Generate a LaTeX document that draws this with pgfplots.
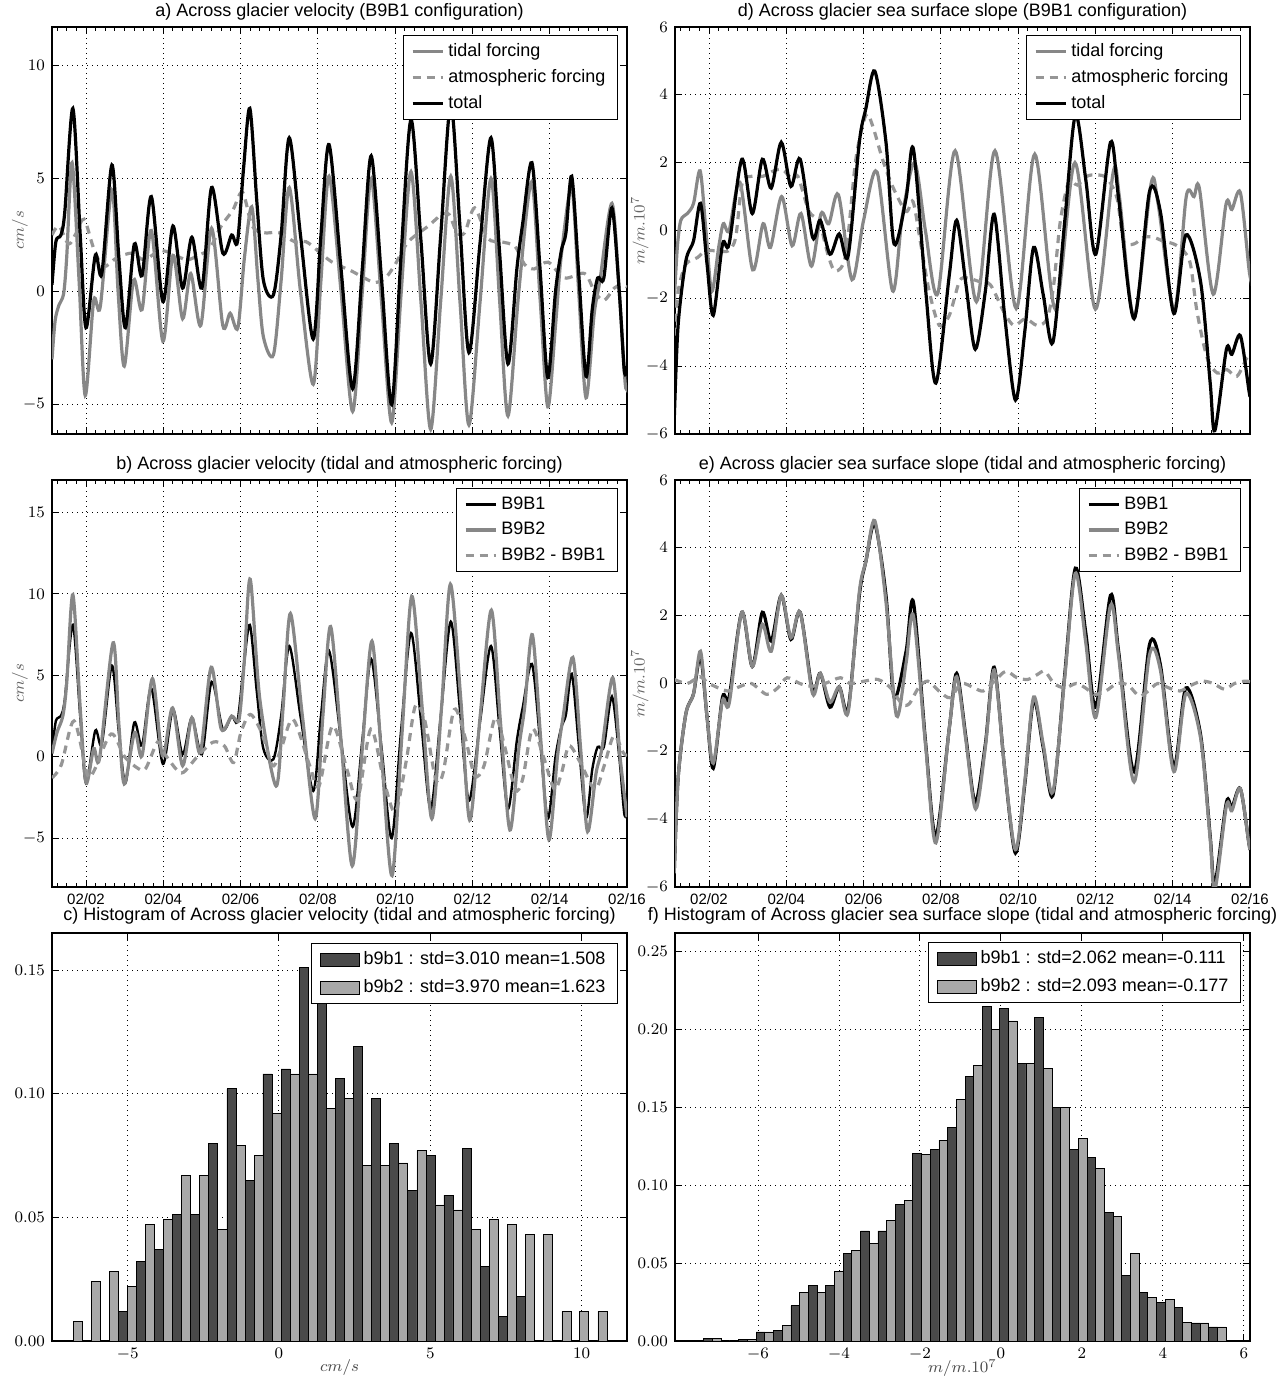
\documentclass[border=0pt]{standalone}
\usepackage{fontspec}
\setmainfont{Liberation Sans}
\usepackage{pgfplots}
\usepackage{pgfplotstable}
\pgfplotsset{compat=1.18}

\definecolor{tidalc}{RGB}{135,135,135}
\definecolor{atmoc}{RGB}{150,150,150}
\definecolor{hdark}{RGB}{74,74,74}
\definecolor{hlight}{RGB}{168,168,168}

% panel a: across glacier velocity, B9B1
\pgfplotstableread{
x y
1.12 0.3
1.22 2.2
1.35 2.5
1.45 3.5
1.66 8.1
1.85 2.5
2.0 -1.6
2.24 1.6
2.41 0.8
2.67 5.6
2.85 1.5
3.02 -1.6
3.25 2.1
3.45 0.7
3.69 4.2
3.99 -0.44
4.25 2.9
4.5 0.15
4.74 2.4
5.0 0.15
5.25 4.6
5.54 1.7
5.77 2.5
5.92 2.2
6.08 5.5
6.24 8.1
6.42 4.0
6.59 0.5
6.85 -0.15
7.05 2.5
7.26 6.8
7.55 2.5
7.88 -2.1
8.08 2.5
8.29 6.5
8.6 1.0
8.9 -4.3
9.15 1.0
9.38 6.0
9.65 0.5
9.91 -5.0
10.15 1.5
10.41 7.6
10.67 2.2
10.92 -3.2
11.18 2.5
11.44 8.3
11.68 2.8
11.91 -2.7
12.2 2.2
12.48 6.8
12.7 1.8
12.92 -3.2
13.15 1.0
13.3 3.0
13.54 5.7
13.75 1.0
13.95 -3.8
14.15 0.0
14.3 1.8
14.42 2.6
14.57 5.1
14.75 0.8
14.94 -3.75
15.1 -0.8
15.24 0.6
15.4 0.6
15.61 3.7
15.8 0.0
15.93 -3.5
16.0 -3.3
}\atot

\pgfplotstableread{
x y
1.12 -3.0
1.2 -1.3
1.3 -0.6
1.42 -0.1
1.5 1.5
1.64 5.7
1.82 0.5
1.98 -4.6
2.2 -0.4
2.37 -0.66
2.67 4.5
2.83 0.0
2.99 -3.3
3.23 0.5
3.45 -0.8
3.69 2.7
3.99 -2.2
4.25 1.6
4.5 -1.2
4.71 0.8
4.97 -1.5
5.25 2.8
5.54 -1.5
5.73 -0.96
5.93 -1.6
6.1 1.5
6.29 3.75
6.45 0.5
6.59 -2.0
6.85 -2.8
7.05 0.5
7.26 4.6
7.55 0.0
7.88 -4.1
8.08 0.5
8.29 5.1
8.6 0.0
8.9 -5.3
9.15 0.0
9.38 5.0
9.65 -0.5
9.91 -5.8
10.15 -0.2
10.41 5.3
10.67 -0.5
10.92 -6.1
11.18 -0.4
11.44 5.1
11.68 -0.5
11.91 -5.9
12.2 -0.4
12.48 5.0
12.7 -0.3
12.92 -5.5
13.2 0.0
13.53 4.85
13.75 -0.3
13.95 -5.1
14.15 -1.5
14.3 1.6
14.57 4.6
14.75 0.0
14.94 -4.7
15.15 -1.0
15.3 0.5
15.61 3.9
15.8 0.0
15.95 -4.0
16.0 -4.2
}\atid

\pgfplotstableread{
x y
1.12 2.5
1.3 2.9
1.55 2.1
1.75 2.6
1.95 3.2
2.2 1.9
2.45 1.1
2.8 1.5
3.2 1.7
3.5 1.4
3.9 1.8
4.2 1.7
4.6 1.4
4.9 1.6
5.2 1.9
5.5 2.9
5.8 3.6
6.05 4.4
6.3 2.9
6.6 2.6
7.0 2.6
7.4 2.2
7.7 2.2
8.0 1.8
8.37 1.3
8.88 0.9
9.2 0.6
9.48 0.4
9.75 0.6
10.0 1.2
10.34 2.2
10.86 2.9
11.2 3.4
11.4 3.4
11.6 2.6
11.8 2.6
12.06 3.7
12.4 2.35
12.75 2.2
13.1 2.0
13.35 1.2
13.6 1.0
13.96 1.3
14.38 0.6
14.9 0.8
15.16 0.0
15.4 -0.4
15.67 0.15
15.85 0.3
16.0 0.2
}\aatm

% panel d: across glacier sea surface slope, B9B1
\pgfplotstableread{
x y
1.1 -5.6
1.2 -2.8
1.4 -0.9
1.6 -0.3
1.78 0.8
1.95 -1.0
2.11 -2.5
2.35 -0.4
2.52 -0.4
2.85 2.1
3.12 0.5
3.38 2.1
3.61 1.25
3.87 2.6
4.12 1.3
4.36 2.1
4.68 -0.2
4.88 0.3
5.13 -0.7
5.37 -0.1
5.6 -0.75
5.89 2.6
6.06 3.6
6.29 4.7
6.58 2.6
6.79 -0.4
7.1 0.95
7.29 2.4
7.61 -1.8
7.87 -4.5
8.22 -1.3
8.41 0.3
8.65 -1.6
8.89 -3.5
9.15 -1.8
9.38 0.48
9.65 -2.5
9.93 -5.0
10.17 -3.0
10.4 -0.5
10.65 -1.9
10.9 -3.3
11.2 0.2
11.48 3.4
11.75 1.5
12.01 -0.7
12.39 2.6
12.6 0.95
13.0 -2.6
13.4 1.15
13.68 0.56
14.03 -2.45
14.34 -0.13
14.72 -1.5
14.97 -4.5
15.09 -5.9
15.39 -3.5
15.53 -3.65
15.75 -3.1
15.97 -4.7
16.0 -4.9
}\dtot

\pgfplotstableread{
x y
1.1 -2.1
1.18 -0.5
1.27 0.3
1.44 0.5
1.6 0.8
1.77 1.76
1.92 0.0
2.07 -1.8
2.25 -0.5
2.37 0.2
2.52 0.0
2.8 1.42
3.13 -1.16
3.4 0.2
3.59 -0.5
3.88 1.0
4.15 -0.45
4.38 0.5
4.65 -1.05
4.9 0.5
5.1 0.2
5.35 1.05
5.7 -1.45
6.0 0.3
6.35 1.72
6.75 -1.78
7.0 0.4
7.32 2.0
7.6 0.0
7.92 -1.86
8.37 2.35
8.92 -2.1
9.4 2.35
9.95 -2.3
10.43 2.25
10.96 -2.32
11.47 2.0
12.0 -2.32
12.46 1.72
12.62 1.0
13.0 -2.55
13.44 1.38
13.62 0.8
14.04 -2.35
14.35 1.0
14.55 1.0
14.69 1.24
15.05 -1.88
15.38 0.78
15.53 0.62
15.75 1.12
15.97 -1.1
16.0 -1.3
}\dtid

\pgfplotstableread{
x y
1.1 -3.1
1.2 -1.8
1.4 -1.0
1.7 -0.8
1.91 -0.6
2.2 -0.6
2.5 -0.6
2.69 -0.2
2.86 1.4
3.12 1.6
3.4 1.6
3.64 1.74
3.9 1.8
4.16 1.5
4.3 1.6
4.59 0.56
4.85 0.26
5.1 -0.8
5.28 -1.2
5.54 -0.7
5.8 2.1
6.06 3.4
6.23 3.1
6.49 2.1
6.75 1.3
7.1 0.56
7.28 0.85
7.48 -0.4
7.7 -1.8
7.96 -2.8
8.22 -2.5
8.48 -1.5
8.68 -1.4
8.98 -1.5
9.28 -1.6
9.63 -2.4
9.89 -2.8
10.19 -2.6
10.49 -2.8
10.75 -2.6
10.92 -1.6
11.09 0.26
11.31 1.44
11.53 1.34
11.78 1.6
12.04 1.64
12.3 1.54
12.56 0.95
12.73 -0.3
12.99 -0.4
13.25 -0.2
13.51 -0.2
13.72 -0.3
14.03 -0.4
14.28 -0.6
14.46 -1.0
14.63 -2.4
14.89 -3.75
15.15 -4.2
15.4 -4.1
15.66 -4.3
15.92 -3.75
16.0 -3.7
}\datm

% panel b: B9B2 and B9B2 - B9B1 velocity
\pgfplotstableread{
x y
1.12 0.2
1.25 1.5
1.4 2.5
1.5 4.5
1.66 9.96
1.85 3.0
2.0 -1.6
2.2 0.5
2.35 -0.1
2.7 7.0
2.85 2.0
2.99 -1.67
3.26 1.5
3.45 0.06
3.72 4.8
3.98 0.06
4.24 3.0
4.5 -0.55
4.74 2.4
4.96 0.27
5.24 5.5
5.5 1.7
5.77 2.5
5.96 2.3
6.1 6.0
6.25 10.9
6.5 3.5
6.92 -1.8
7.1 3.0
7.29 8.8
7.6 2.5
7.93 -3.8
8.13 2.5
8.33 8.0
8.6 1.0
8.89 -6.7
9.15 0.5
9.4 7.1
9.65 0.0
9.92 -7.3
10.18 1.5
10.43 9.86
10.7 3.0
10.95 -3.8
11.2 3.0
11.43 10.6
11.7 3.5
11.93 -3.9
12.2 2.5
12.49 9.0
12.73 2.0
12.97 -4.5
13.2 0.5
13.35 3.0
13.55 7.5
13.77 1.0
13.98 -5.1
14.2 0.0
14.35 2.5
14.6 6.1
14.8 0.5
14.98 -4.6
15.2 -1.0
15.35 0.5
15.63 4.86
15.82 0.0
16.0 -3.7
}\bbtwo

\pgfplotstableread{
x y
1.12 -1.3
1.36 -0.5
1.69 2.2
2.03 -1.06
2.2 -0.9
2.65 1.4
3.0 0.0
3.37 -0.75
3.55 -0.7
3.85 0.9
4.0 0.3
4.33 -0.75
4.52 -0.96
4.9 0.06
5.29 0.9
5.58 0.67
5.82 -0.35
6.01 1.5
6.25 2.6
6.54 1.5
6.83 -0.55
7.05 0.5
7.36 2.3
7.79 -0.55
8.03 -1.8
8.38 1.9
8.75 -0.75
9.03 -2.6
9.37 1.7
9.7 -1.37
10.0 -3.4
10.28 -0.35
10.52 3.1
10.76 2.3
11.05 -1.37
11.24 -1.0
11.53 2.9
11.82 1.1
12.06 -1.16
12.3 -0.55
12.59 2.4
12.83 0.67
13.11 -2.0
13.3 -1.37
13.55 1.7
13.83 0.06
14.12 -2.0
14.31 -0.96
14.5 0.67
14.79 -0.35
15.17 -2.0
15.41 -0.55
15.66 1.3
15.9 0.27
16.0 0.06
}\bdiff

% panel e: B9B2 and B9B2 - B9B1 slope
\pgfplotstableread{
x y
1.1 -5.6
1.2 -2.8
1.4 -0.9
1.6 -0.3
1.78 0.95
1.95 -1.0
2.11 -2.35
2.35 -0.5
2.52 -0.6
2.85 2.1
3.12 0.5
3.38 1.75
3.61 0.95
3.87 2.6
4.12 1.35
4.36 2.1
4.68 -0.3
4.88 0.3
5.13 -0.55
5.37 -0.1
5.6 -0.85
5.89 2.7
6.06 3.6
6.29 4.8
6.58 2.4
6.85 -0.95
7.1 0.6
7.29 2.0
7.61 -1.9
7.87 -4.7
8.22 -1.3
8.41 0.2
8.65 -1.7
8.9 -3.7
9.15 -1.9
9.38 0.4
9.65 -2.5
9.93 -4.9
10.17 -2.9
10.4 -0.4
10.65 -1.8
10.9 -3.2
11.2 0.1
11.48 3.25
11.75 1.2
12.01 -1.0
12.39 2.3
12.6 0.8
13.0 -2.9
13.4 0.85
13.68 0.4
14.03 -2.6
14.34 -0.3
14.72 -1.6
14.97 -4.6
15.09 -6.1
15.39 -3.6
15.53 -3.75
15.75 -3.1
15.97 -4.7
16.0 -4.9
}\ebtwo

\pgfplotstableread{
x y
1.1 0.12
1.44 0.0
1.76 0.2
2.0 0.0
2.48 -0.22
2.82 -0.08
3.1 0.0
3.49 -0.32
3.78 -0.13
4.02 0.17
4.35 0.0
4.64 -0.08
5.0 0.0
5.4 0.17
5.65 0.0
6.03 0.07
6.37 0.12
6.7 -0.13
6.99 -0.6
7.18 -0.6
7.42 -0.13
7.66 0.07
7.95 -0.22
8.24 -0.42
8.53 0.0
8.86 -0.13
9.1 -0.22
9.39 0.07
9.68 0.36
9.97 0.17
10.25 0.12
10.49 0.26
10.69 0.36
10.93 0.0
11.21 -0.13
11.5 0.0
11.74 -0.13
11.98 -0.32
12.27 -0.22
12.56 0.0
12.85 -0.05
13.13 -0.37
13.37 -0.22
13.61 0.0
13.9 -0.13
14.19 -0.22
14.48 -0.05
14.76 0.07
15.05 0.0
15.34 -0.17
15.6 0.0
15.87 0.07
16.0 0.05
}\ediff

% histogram c
\pgfplotstableread{
x y
-5.16 0.012
-4.56 0.032
-3.96 0.037
-3.37 0.051
-2.77 0.051
-2.17 0.080
-1.57 0.102
-0.97 0.065
-0.38 0.108
0.22 0.110
0.82 0.151
1.42 0.137
2.02 0.106
2.61 0.119
3.21 0.098
3.81 0.080
4.41 0.061
5.01 0.075
5.60 0.059
6.20 0.078
6.80 0.030
7.40 0.010
8.00 0.018
}\chone

\pgfplotstableread{
x y
-6.65 0.008
-6.06 0.024
-5.46 0.028
-4.86 0.022
-4.26 0.047
-3.66 0.049
-3.07 0.067
-2.47 0.067
-1.87 0.045
-1.27 0.079
-0.67 0.075
-0.08 0.092
0.52 0.108
1.12 0.108
1.72 0.094
2.32 0.098
2.91 0.071
3.51 0.071
4.11 0.072
4.71 0.077
5.31 0.055
5.90 0.053
6.50 0.045
7.10 0.049
7.70 0.047
8.30 0.043
8.90 0.043
9.50 0.012
10.09 0.012
10.69 0.012
}\chtwo

% histogram f
\pgfplotstableread{
x y
-7.23 0.0015
-6.80 0.0005
-6.37 0.001
-5.94 0.0058
-5.51 0.0069
-5.08 0.0226
-4.65 0.0354
-4.22 0.0354
-3.79 0.0563
-3.36 0.0707
-2.93 0.0707
-2.50 0.0878
-2.07 0.1207
-1.64 0.123
-1.21 0.137
-0.78 0.170
-0.35 0.2146
0.08 0.2135
0.51 0.178
0.94 0.208
1.37 0.150
1.80 0.123
2.23 0.118
2.66 0.0825
3.09 0.042
3.52 0.031
3.95 0.0245
4.38 0.0213
4.81 0.0116
5.24 0.009
}\fhone

\pgfplotstableread{
x y
-7.015 0.0015
-6.585 0.0005
-6.155 0.001
-5.725 0.0058
-5.295 0.010
-4.865 0.031
-4.435 0.031
-4.005 0.0445
-3.575 0.0584
-3.145 0.0627
-2.715 0.0773
-2.285 0.090
-1.855 0.120
-1.425 0.129
-0.995 0.155
-0.565 0.177
-0.135 0.200
0.295 0.2055
0.725 0.178
1.155 0.175
1.585 0.150
2.015 0.130
2.445 0.111
2.875 0.080
3.305 0.056
3.735 0.0277
4.165 0.0266
4.595 0.0122
5.025 0.0116
5.455 0.009
}\fhtwo

\pgfplotsset{
  panel/.style={
    scale only axis, width=287.5pt, height=203.5pt, anchor=south west,
    axis line style={black, line width=0.6pt},
    grid=major,
    major grid style={black, line width=0.5pt, dotted},
    tick align=inside, xtick pos=both, ytick pos=both,
    major tick length=3.5pt, minor tick length=2pt,
    every tick/.style={black, line width=0.5pt},
    yticklabel style={font=\fontsize{8}{9}\selectfont},
    xticklabel style={font=\fontsize{8}{9}\selectfont},
    title style={font=\fontsize{9}{10}\selectfont, yshift=-6pt},
    legend cell align=left,
    legend style={font=\fontsize{9}{11}\selectfont, draw=black, line width=0.6pt,
      at={(1,1)}, anchor=north east, xshift=-4.5pt, yshift=-4pt,
      inner xsep=4pt, inner ysep=2pt, row sep=1pt,
      /tikz/every even column/.append style={column sep=7pt}},
  },
  timeser/.style={panel, xmin=1.12, xmax=16, xtick={2,4,...,16},
    minor xtick={1.25,1.5,...,16},
    legend image code/.code={\draw[##1] (0pt,0pt) -- (15pt,0pt);},
    every axis y label/.style={at={(axis description cs:-0.056,0.5)}, rotate=90,
      anchor=center, font=\fontsize{8}{9}\selectfont, text=black!60},
  },
  dates/.style={xticklabels={02/02,02/04,02/06,02/08,02/10,02/12,02/14,02/16},
    xticklabel style={font=\fontsize{7.5}{9}\selectfont}},
  hist/.style={panel,
    title style={yshift=1pt},
    legend style={row sep=2pt, /tikz/every even column/.append style={column sep=4pt}},
    yticklabel style={/pgf/number format/.cd, fixed, fixed zerofill, precision=2},
    every axis x label/.style={at={(axis description cs:0.5,0)}, anchor=center,
      yshift=-13.5pt, font=\fontsize{8}{9}\selectfont, text=black!70},
  },
  hbar/.style={ybar, bar shift=0pt, draw=black, line width=0.4pt,
    legend image code/.code={\draw[##1] (0pt,-3.25pt) rectangle (19.5pt,3.25pt);}},
  tidal/.style={tidalc, line width=1.6pt, smooth},
  atmo/.style={atmoc, line width=1.6pt, smooth, dash pattern=on 4pt off 3pt},
  total/.style={black, line width=1.6pt, smooth},
}

\begin{document}
\begin{tikzpicture}
\path[use as bounding box] (0,0) rectangle (639pt,689pt);

% a
\begin{axis}[timeser, at={(26pt,472pt)}, ymin=-6.3, ymax=11.7, ytick={-5,0,5,10},
  xticklabels={}, ylabel={$cm/s$},
  title={a) Across glacier velocity (B9B1 configuration)}]
\addplot[tidal] table {\atid};
\addlegendentry{tidal forcing}
\addplot[atmo] table {\aatm};
\addlegendentry{atmospheric forcing}
\addplot[total] table {\atot};
\addlegendentry{total}
\end{axis}

% d
\begin{axis}[timeser, at={(337.5pt,472pt)}, ymin=-6, ymax=6, ytick={-6,-4,...,6},
  xticklabels={}, ylabel={$m/m.10^7$},
  every axis y label/.append style={at={(axis description cs:-0.061,0.5)}},
  title={d) Across glacier sea surface slope (B9B1 configuration)}]
\addplot[tidal] table {\dtid};
\addlegendentry{tidal forcing}
\addplot[atmo] table {\datm};
\addlegendentry{atmospheric forcing}
\addplot[total] table {\dtot};
\addlegendentry{total}
\end{axis}

% b
\begin{axis}[timeser, dates, at={(26pt,245.5pt)}, ymin=-8, ymax=17, ytick={-5,0,5,10,15},
  ylabel={$cm/s$},
  title={b) Across glacier velocity (tidal and atmospheric forcing)}]
\addplot[black, line width=1.2pt, smooth] table {\atot};
\addlegendentry{B9B1}
\addplot[tidal] table {\bbtwo};
\addlegendentry{B9B2}
\addplot[atmo] table {\bdiff};
\addlegendentry{B9B2 - B9B1}
\end{axis}

% e
\begin{axis}[timeser, dates, at={(337.5pt,245.5pt)}, ymin=-6, ymax=6, ytick={-6,-4,...,6},
  ylabel={$m/m.10^7$},
  every axis y label/.append style={at={(axis description cs:-0.061,0.5)}},
  title={e) Across glacier sea surface slope (tidal and atmospheric forcing)}]
\addplot[black, line width=1.6pt, smooth] table {\dtot};
\addlegendentry{B9B1}
\addplot[tidal] table {\ebtwo};
\addlegendentry{B9B2}
\addplot[atmo] table {\ediff};
\addlegendentry{B9B2 - B9B1}
\end{axis}

% c
\begin{axis}[hist, at={(26pt,18.5pt)}, height=204pt, xmin=-7.5, xmax=11.5, ymin=0, ymax=0.165,
  xtick={-5,0,5,10}, ytick={0,0.05,0.10,0.15}, xlabel={$cm/s$},
  title={c) Histogram of Across glacier velocity (tidal and atmospheric forcing)},
  legend style={yshift=-1pt}]
\addplot[hbar, bar width=0.3, fill=hdark] table {\chone};
\addlegendentry{b9b1 : std=3.010 mean=1.508}
\addplot[hbar, bar width=0.3, fill=hlight] table {\chtwo};
\addlegendentry{b9b2 : std=3.970 mean=1.623}
\end{axis}

% f
\begin{axis}[hist, at={(337.5pt,18.5pt)}, height=204pt, xmin=-8.05, xmax=6.15, ymin=0, ymax=0.262,
  xtick={-6,-4,...,6}, ytick={0,0.05,...,0.25}, xlabel={$m/m.10^7$},
  title={f) Histogram of Across glacier sea surface slope (tidal and atmospheric forcing)},
  legend style={yshift=-0.5pt}]
\addplot[hbar, bar width=0.215, fill=hdark] table {\fhone};
\addlegendentry{b9b1 : std=2.062 mean=-0.111}
\addplot[hbar, bar width=0.215, fill=hlight] table {\fhtwo};
\addlegendentry{b9b2 : std=2.093 mean=-0.177}
\end{axis}
\end{tikzpicture}
\end{document}
